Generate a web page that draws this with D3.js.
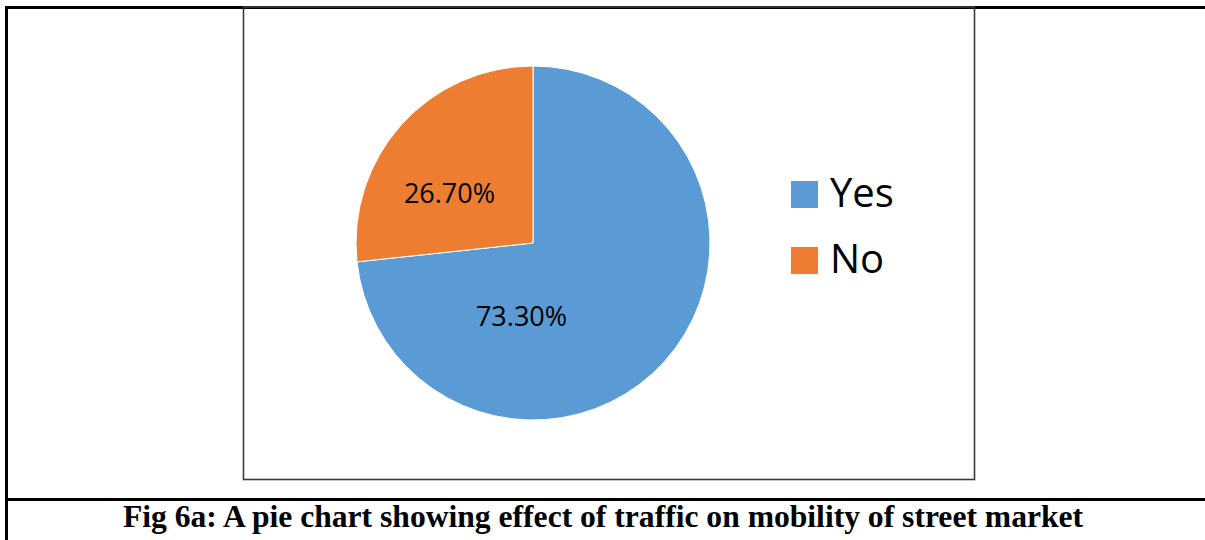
<!DOCTYPE html>
<html>
<head>
<meta charset="utf-8">
<script src="https://cdn.jsdelivr.net/npm/d3@7"></script>
<style>
  html, body { margin: 0; padding: 0; background: #fff; }
  svg { display: block; }
</style>
</head>
<body>
<div id="chart"></div>
<script>
const categories = ['Yes', 'No'];
const shares = [73.3, 26.7];
const labels = ['73.30%', '26.70%'];
const colors = ['#5B9BD5', '#ED7D31'];
const caption = 'Fig 6a: A pie chart showing effect of traffic on mobility of street market';

const width = 1205;
const height = 540;

const svg = d3.select('#chart').append('svg')
  .attr('width', width).attr('height', height);

// table frame of the document
svg.append('line').attr('x1', 5).attr('x2', width).attr('y1', 7.5).attr('y2', 7.5)
  .attr('stroke', '#000').attr('stroke-width', 3);
svg.append('line').attr('x1', 6.5).attr('x2', 6.5).attr('y1', 6).attr('y2', height)
  .attr('stroke', '#000').attr('stroke-width', 3);
svg.append('line').attr('x1', 5).attr('x2', width).attr('y1', 499.5).attr('y2', 499.5)
  .attr('stroke', '#000').attr('stroke-width', 3);

// chart area box
svg.append('rect').attr('x', 243.5).attr('y', 7).attr('width', 731).attr('height', 472.5)
  .attr('fill', 'none').attr('stroke', '#3a3a3a').attr('stroke-width', 1.6);

const cx = 533, cy = 243, r = 177;
const pie = d3.pie().sort(null).value((d) => d.v);
const arc = d3.arc().innerRadius(0).outerRadius(r);
const data = categories.map((c, i) => ({ name: c, v: shares[i], label: labels[i], color: colors[i] }));
const arcs = pie(data);

const g = svg.append('g').attr('transform', `translate(${cx},${cy})`);
g.selectAll('path').data(arcs).join('path')
  .attr('d', arc)
  .attr('fill', (d) => d.data.color)
  .attr('stroke', '#fff').attr('stroke-width', 1);

// label placement (fraction of radius), mimicking the spreadsheet "best fit"
const labelPlace = [[-0.065, 0.412], [-0.472, -0.283]];
g.selectAll('text.lbl').data(arcs).join('text')
  .attr('class', 'lbl')
  .attr('x', (d, i) => labelPlace[i][0] * r)
  .attr('y', (d, i) => labelPlace[i][1] * r)
  .attr('text-anchor', 'middle')
  .attr('dominant-baseline', 'central')
  .attr('font-family', "'Open Sans', sans-serif")
  .attr('font-size', 27)
  .attr('fill', '#000')
  .text((d) => d.data.label);

// legend
const legend = svg.append('g').attr('transform', 'translate(791,181)');
const row = legend.selectAll('g').data(data).join('g')
  .attr('transform', (d, i) => `translate(0,${i * 66})`);
row.append('rect').attr('width', 27).attr('height', 27).attr('fill', (d) => d.color);
row.append('text')
  .attr('x', 39).attr('y', 26)
  .attr('font-family', "'Open Sans', sans-serif")
  .attr('font-size', 40)
  .attr('fill', '#000')
  .text((d) => d.name);

// caption
svg.append('text')
  .attr('x', 603).attr('y', 527)
  .attr('text-anchor', 'middle')
  .attr('font-family', "'Liberation Serif', 'Times New Roman', serif")
  .attr('font-weight', 'bold')
  .attr('font-size', 31.6)
  .attr('fill', '#000')
  .text(caption);
</script>
</body>
</html>
